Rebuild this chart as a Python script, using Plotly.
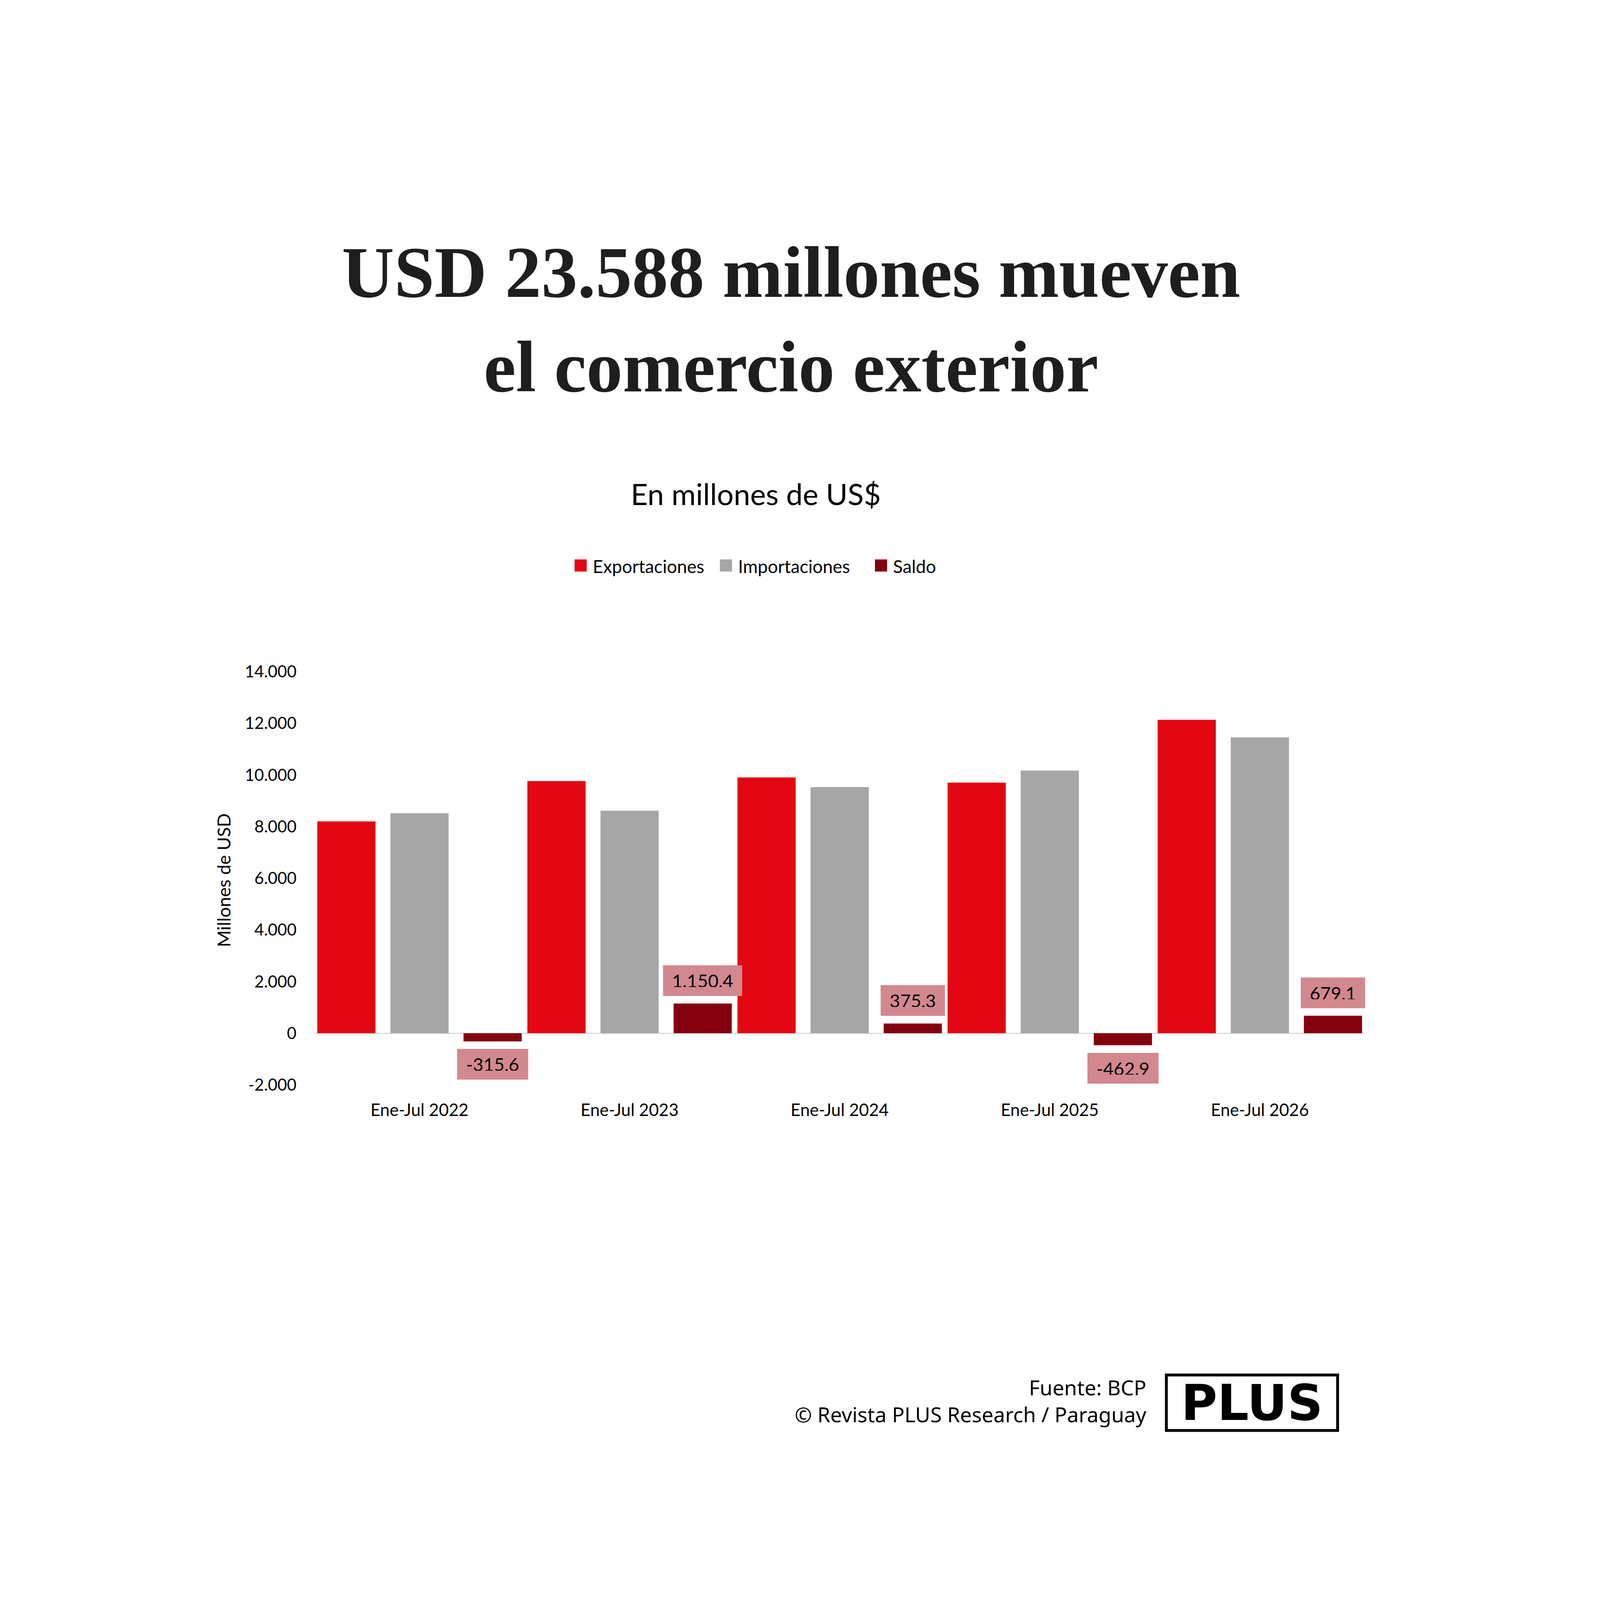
import plotly.graph_objects as go

# comercio exterior, acumulado enero-julio (millones de US$)
periodos = ["Ene-Jul 2022", "Ene-Jul 2023", "Ene-Jul 2024", "Ene-Jul 2025", "Ene-Jul 2026"]
exportaciones = [8200.0, 9763.0, 9903.0, 9703.0, 12133.6]
importaciones = [8515.6, 8612.6, 9527.7, 10165.9, 11454.5]
saldo = [-315.6, 1150.4, 375.3, -462.9, 679.1]

series = ["Exportaciones", "Importaciones", "Saldo"]
colores = ["#E30613", "#A6A6A6", "#85000F"]

y_tickvals = [-2000, 0, 2000, 4000, 6000, 8000, 10000, 12000, 14000]
y_ticktext = ["-2.000", "0", "2.000", "4.000", "6.000", "8.000", "10.000", "12.000", "14.000"]

W, H = 4500, 5625
FUENTE = "Lato"


def fmt_es(v):
    # 1,150.4 -> 1.150,4
    s = f"{v:,.1f}"
    return s.replace(",", "#").replace(".", ",").replace("#", ".")


def px(x, y):
    return x / W, 1 - y / H


fig = go.Figure()

ancho = 0.277
sep = 0.348
for nombre, valores, color, desp in zip(series, [exportaciones, importaciones, saldo], colores, [-sep, 0, sep]):
    fig.add_trace(go.Bar(
        x=periodos, y=valores, name=nombre,
        marker=dict(color=color, line=dict(width=0)),
        width=ancho, offset=desp - ancho / 2,
        showlegend=False,
    ))

# etiquetas del saldo
for i, v in enumerate(saldo):
    pos = v >= 0
    fig.add_annotation(
        x=i + sep, y=v, xref="x", yref="y", text=fmt_es(v), showarrow=False,
        xanchor="center",
        yanchor="bottom" if pos else "top", yshift=26 if pos else -26,
        bgcolor="#D3888F", borderpad=31, height=45,
        font=dict(family=FUENTE, size=64, color="#000000"),
    )


def texto(x, y, t, fuente, **kw):
    ax_, ay_ = px(x, y)
    opts = dict(xanchor="center", yanchor="middle")
    opts.update(kw)
    fig.add_annotation(x=ax_, y=ay_, xref="paper", yref="paper", showarrow=False,
                       text=t, font=fuente, **opts)


# titulo y subtitulo
texto(2218, 1100, "USD 23.588 millones mueven<br>el comercio exterior",
      dict(family="Liberation Serif", size=255, color="#1E1E1E", weight="bold"))
texto(2094, 1720, "En millones de US$", dict(family=FUENTE, size=104, color="#000000"))

# leyenda
for nombre, color, lx in zip(series, colores, [1450, 1961, 2506]):
    texto(lx, 1968, f'<span style="color:{color};font-size:88px">■</span> {nombre}',
          dict(family=FUENTE, size=63, color="#000000"), xanchor="left")

# titulo eje y
texto(223, 3096, "Millones de USD", dict(family=FUENTE, size=64, color="#000000"), textangle=-90)

# pie
texto(3470, 4948, "Fuente: BCP<br>© Revista PLUS Research / Paraguay",
      dict(family="Noto Sans", size=73, color="#000000"), xanchor="right", align="right")

texto(3839, 4955, "PLUS", dict(family="DejaVu Sans", size=174, color="#000000", weight="bold"),
      width=560, height=153, bordercolor="#000000", borderwidth=10, borderpad=16)

fig.update_layout(
    width=W, height=H,
    margin=dict(l=0, r=0, t=0, b=0),
    paper_bgcolor="#FFFFFF", plot_bgcolor="#FFFFFF",
    barmode="overlay",
    xaxis=dict(
        type="category", range=[-0.5, 4.5],
        domain=[543 / W, 4236 / W],
        showgrid=False, zeroline=False, showline=False, ticks="",
        tickfont=dict(family=FUENTE, size=60, color="#000000"),
        ticklabelstandoff=48,
    ),
    yaxis=dict(
        range=[-2000, 14000],
        domain=[1 - 3824 / H, 1 - 2353 / H],
        tickvals=y_tickvals, ticktext=y_ticktext,
        showgrid=False, showline=False, ticks="",
        zeroline=True, zerolinecolor="#D9D9D9", zerolinewidth=4,
        tickfont=dict(family=FUENTE, size=58, color="#000000"),
        ticklabelstandoff=62,
    ),
)

# la ventana real puede ser menor que 4500x5625: escalar la figura entera para que quepa
ajuste = """
var gd = document.getElementById('{plot_id}');
document.body.style.margin = '0';
document.body.style.overflow = 'hidden';
var s = Math.min(window.innerWidth / 4500, window.innerHeight / 5625, 1);
var dx = (window.innerWidth - 4500 * s) / 2;
gd.style.transformOrigin = '0 0';
gd.style.transform = 'translate(' + dx + 'px, 0px) scale(' + s + ')';
"""

fig.write_html("out.html", post_script=ajuste)
